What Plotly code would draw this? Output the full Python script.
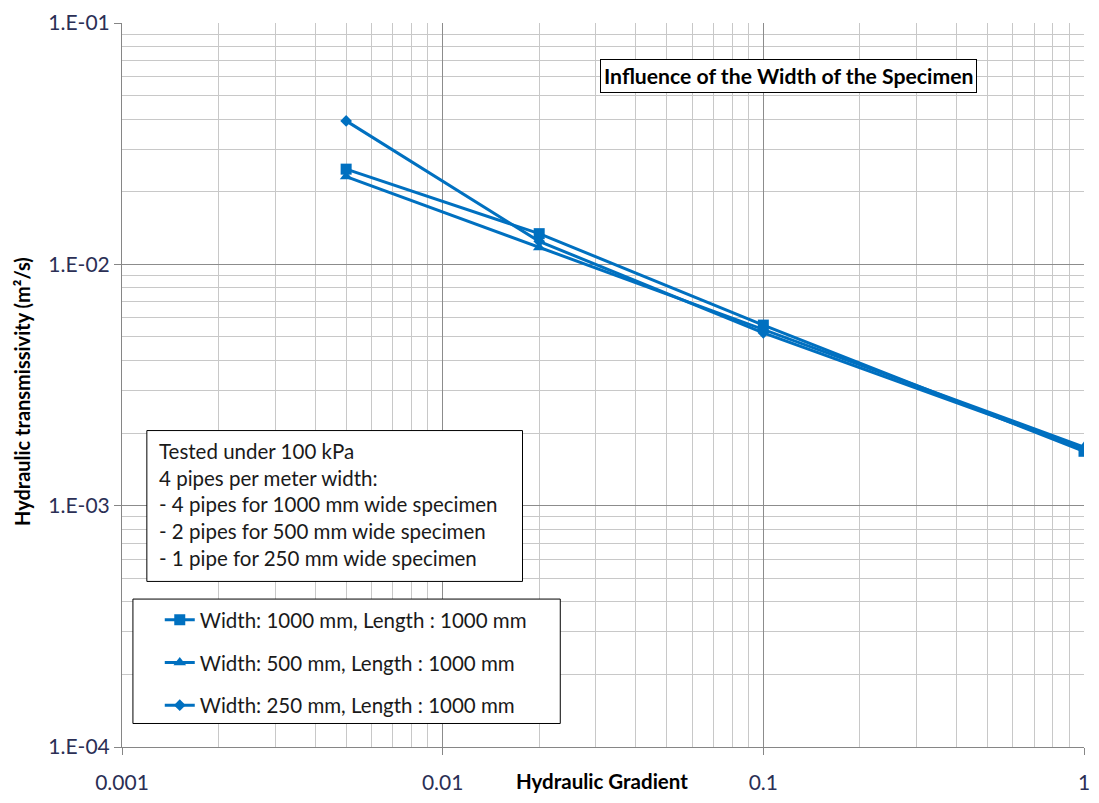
import plotly.graph_objects as go

# ---- data ----
gradient = [0.005, 0.02, 0.1, 1.0]
series_names = [
    "Width: 1000 mm, Length : 1000 mm",
    "Width: 500 mm, Length : 1000 mm",
    "Width: 250 mm, Length : 1000 mm",
]
w1000 = [0.0248, 0.0134, 0.0056, 0.00168]
w500 = [0.0231, 0.01175, 0.0054, 0.00175]
w250 = [0.0393, 0.01245, 0.0052, 0.00172]
x_tickvals = [0.001, 0.01, 0.1, 1]
x_ticktext = ["0.001", "0.01", "0.1", "1"]
y_tickvals = [1e-4, 1e-3, 1e-2, 1e-1]
y_ticktext = ["1.E-04", "1.E-03", "1.E-02", "1.E-01"]
note_lines = [
    "Tested under 100 kPa",
    "4 pipes per meter width:",
    "- 4 pipes for 1000 mm wide specimen",
    "- 2 pipes for 500 mm wide specimen",
    "- 1 pipe for 250 mm wide specimen",
]
chart_title = "Influence of the Width of the Specimen"
x_title = "Hydraulic Gradient"
y_title = "Hydraulic transmissivity (m²/s)"

# ---- layout geometry (pixels) ----
W, H = 1099, 803
L, R, T, B = 122, 9, 18, 46
PW, PH = W - L - R, H - T - B


def px(xp):
    return (xp - L) / PW


def py(yp):
    return (H - B - yp) / PH


BLUE = "#0070C0"
FONT = "Lato, 'Open Sans', sans-serif"
TICKC = "#2B2F55"

fig = go.Figure()
symbols = ["square", "triangle-up", "diamond"]
sizes = [11, 11, 9]
for i, (name, vals) in enumerate(zip(series_names, [w1000, w500, w250])):
    fig.add_trace(go.Scatter(
        x=gradient, y=vals, name=name, mode="lines+markers",
        line=dict(color=BLUE, width=3),
        marker=dict(symbol=symbols[i], size=sizes[i], color=BLUE),
        legendgroup=f"g{i}",
    ))

axis_common = dict(
    type="log", showline=True, linecolor="#868686", linewidth=1,
    ticks="outside", ticklen=7, tickcolor="#868686",
    showgrid=True, gridcolor="#8C8C8C", gridwidth=1,
    zeroline=False, mirror=False,
    tickfont=dict(family=FONT, size=21, color=TICKC),
    minor=dict(dtick="D1", showgrid=True, gridcolor="#C8C8C8", gridwidth=1, ticks=""),
)

fig.update_xaxes(**axis_common, range=[-3, 0], tickmode="array",
                 tickvals=x_tickvals, ticktext=x_ticktext, ticklabelstandoff=10)
fig.update_yaxes(**axis_common, range=[-4, -1], tickmode="array",
                 tickvals=y_tickvals, ticktext=y_ticktext, ticklabelstandoff=0)

annotations = []
shapes = []
# title box
annotations.append(dict(
    text=f"<b>{chart_title}</b>", x=px(793), y=py(72), xref="paper", yref="paper",
    showarrow=False, font=dict(family=FONT, size=21.2, color="black"),
    bordercolor="black", borderwidth=1, borderpad=3, bgcolor="white",
    xanchor="center", yanchor="middle",
))
# note box
shapes.append(dict(type="rect", xref="paper", yref="paper",
                   x0=px(147), x1=px(525), y0=py(588), y1=py(434),
                   line=dict(color="black", width=1), fillcolor="white", layer="above"))
for k, line in enumerate(note_lines):
    annotations.append(dict(
        text=line, x=px(157), y=py(455 + 27.2 * k), xref="paper", yref="paper",
        showarrow=False, xanchor="left", yanchor="middle",
        font=dict(family=FONT, size=20.5, color="#1A1A1A"),
    ))
# legend box
shapes.append(dict(type="rect", xref="paper", yref="paper",
                   x0=px(133), x1=px(563), y0=py(733), y1=py(606),
                   line=dict(color="black", width=1), fillcolor="white", layer="above"))
# axis titles
annotations.append(dict(
    text=f"<b>{x_title}</b>", x=px(605), y=py(792), xref="paper", yref="paper",
    showarrow=False, xanchor="center", yanchor="middle",
    font=dict(family=FONT, size=20.5, color="black"),
))
annotations.append(dict(
    text=f"<b>{y_title}</b>", x=px(22), y=py(394), xref="paper", yref="paper",
    showarrow=False, xanchor="center", yanchor="middle", textangle=-90,
    font=dict(family=FONT, size=20, color="black"),
))

fig.update_layout(
    width=W, height=H,
    margin=dict(l=L, r=R, t=T, b=B),
    paper_bgcolor="white", plot_bgcolor="white",
    showlegend=True,
    legend=dict(x=px(160), y=py(607), xanchor="left", yanchor="top",
                bgcolor="rgba(0,0,0,0)", borderwidth=0,
                font=dict(family=FONT, size=20.5, color="#1A1A1A"),
                tracegroupgap=13, traceorder="grouped", itemwidth=30),
    annotations=annotations, shapes=shapes,
)

fig.write_html("out.html")
